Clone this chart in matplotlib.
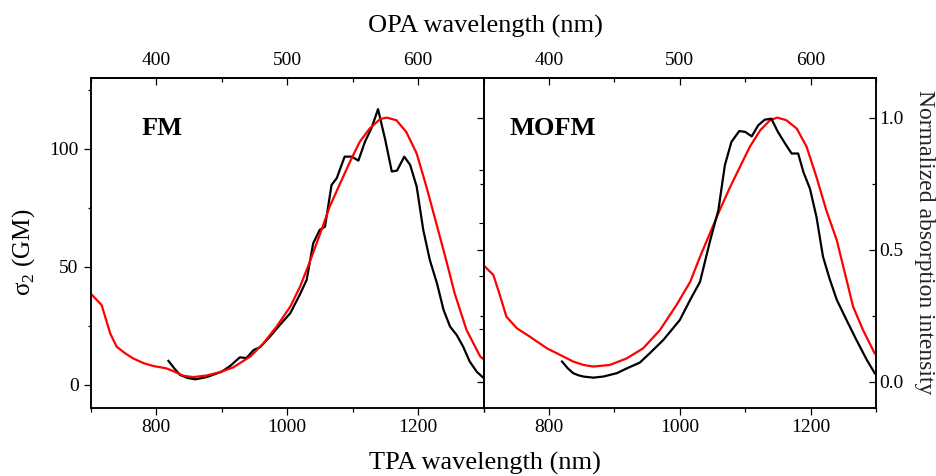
import matplotlib
matplotlib.use("Agg")
import matplotlib.pyplot as plt
from matplotlib.ticker import MultipleLocator

# ---------------- data ----------------
# FM: two-photon absorption cross-section (GM) vs TPA wavelength (nm)
fm_tpa_wl = [819, 828, 837, 848, 860, 877, 900, 913, 928, 938, 949, 959, 974, 989,
             1005, 1020, 1030, 1040, 1050, 1058, 1068, 1076, 1088, 1099, 1109, 1119,
             1129, 1139, 1150, 1160, 1168, 1179, 1188, 1198, 1208, 1218, 1229, 1239,
             1249, 1259, 1269, 1279, 1290, 1300]
fm_tpa_gm = [10.2, 7.0, 4.2, 3.0, 2.4, 3.3, 5.6, 8.0, 11.7, 11.4, 14.8, 16.0, 20.5, 25.4,
             30.4, 38.5, 44.5, 60.0, 65.7, 67.0, 84.7, 87.6, 96.7, 96.7, 95.0, 103.0,
             108.8, 116.8, 103.8, 90.4, 90.8, 96.7, 93.2, 84.0, 65.7, 53.0, 43.0, 31.8,
             24.7, 21.2, 16.2, 9.9, 5.5, 3.0]

# FM: normalized one-photon absorption (plotted at 2x wavelength, TPA scale)
fm_abs_wl = [700, 717, 730, 740, 753, 765, 781, 796, 816, 826, 842, 857, 877, 898, 918,
             944, 964, 984, 1005, 1020, 1035, 1050, 1065, 1081, 1096, 1111, 1126, 1142,
             1152, 1167, 1182, 1198, 1213, 1228, 1243, 1256, 1274, 1295, 1300]
fm_abs = [0.334, 0.29, 0.183, 0.132, 0.107, 0.088, 0.07, 0.059, 0.05, 0.04, 0.022, 0.017,
          0.023, 0.036, 0.054, 0.095, 0.145, 0.208, 0.284, 0.36, 0.455, 0.556, 0.662,
          0.75, 0.832, 0.908, 0.958, 0.994, 1.0, 0.99, 0.946, 0.864, 0.737, 0.599, 0.46,
          0.334, 0.196, 0.095, 0.085]

# MOFM: normalized TPA spectrum
mofm_tpa_wl = [820, 829, 837, 845, 853, 868, 883, 904, 919, 939, 954, 975, 1000, 1016,
               1031, 1046, 1059, 1069, 1079, 1091, 1100, 1110, 1120, 1130, 1140, 1150,
               1161, 1171, 1181, 1189, 1199, 1209, 1219, 1229, 1240, 1255, 1270, 1286,
               1298, 1300]
mofm_tpa = [0.076, 0.05, 0.032, 0.024, 0.019, 0.015, 0.019, 0.032, 0.05, 0.072, 0.107,
            0.158, 0.233, 0.31, 0.378, 0.53, 0.649, 0.82, 0.908, 0.949, 0.946, 0.929,
            0.971, 0.992, 0.996, 0.946, 0.902, 0.864, 0.864, 0.794, 0.731, 0.624, 0.473,
            0.39, 0.31, 0.233, 0.158, 0.082, 0.032, 0.028]

# MOFM: normalized one-photon absorption
mofm_abs_wl = [700, 715, 725, 735, 751, 771, 797, 822, 837, 853, 868, 893, 919, 944, 970,
               995, 1016, 1031, 1046, 1061, 1077, 1092, 1107, 1123, 1138, 1149, 1163,
               1179, 1194, 1209, 1224, 1240, 1255, 1265, 1280, 1298]
mofm_abs = [0.441, 0.404, 0.328, 0.246, 0.202, 0.17, 0.126, 0.095, 0.076, 0.063, 0.057,
            0.063, 0.088, 0.126, 0.196, 0.29, 0.378, 0.473, 0.561, 0.649, 0.737, 0.813,
            0.889, 0.952, 0.99, 1.0, 0.99, 0.958, 0.889, 0.775, 0.649, 0.536, 0.385,
            0.284, 0.196, 0.107]

panel_labels = ["FM", "MOFM"]
bottom_ticks = [800, 1000, 1200]
top_ticks = [400, 500, 600]
left_ticks = [0, 50, 100]
right_ticks = [0.0, 0.5, 1.0]

# ---------------- style ----------------
FONT = "Liberation Serif"
plt.rcParams["font.family"] = [FONT, "DejaVu Serif"]
plt.rcParams["mathtext.fontset"] = "custom"
plt.rcParams["mathtext.rm"] = FONT
plt.rcParams["axes.linewidth"] = 1.1
TICK_FS = 14
LABEL_FS = 19

fig = plt.figure(figsize=(9.36, 4.76), dpi=100)
ax1 = fig.add_axes([90.5 / 936, 1 - 408 / 476, 393 / 936, 330 / 476])
ax2 = fig.add_axes([483.5 / 936, 1 - 408 / 476, 392.5 / 936, 330 / 476])

XLIM = (700, 1300)
GM_LIM = (-9.75, 130)
N_LIM = (-0.1, 1.15)
LW = 1.6


def style_x(ax):
    ax.set_xlim(*XLIM)
    ax.set_xticks(bottom_ticks)
    ax.xaxis.set_minor_locator(MultipleLocator(100))
    ax.tick_params(axis="x", which="both", direction="out", top=False,
                   labelsize=TICK_FS, pad=3, width=0.9)
    ax.tick_params(axis="x", which="major", length=5)
    ax.tick_params(axis="x", which="minor", length=3)
    sec = ax.secondary_xaxis("top", functions=(lambda x: x / 2, lambda x: x * 2))
    sec.set_xticks(top_ticks)
    sec.xaxis.set_minor_locator(MultipleLocator(50))
    sec.tick_params(axis="x", which="both", direction="in", labelsize=TICK_FS,
                    pad=6.5, width=0.9)
    sec.tick_params(axis="x", which="major", length=5)
    sec.tick_params(axis="x", which="minor", length=3)
    return sec


# ---- left panel ----
style_x(ax1)
ax1.set_ylim(*GM_LIM)
ax1.set_yticks(left_ticks)
ax1.yaxis.set_minor_locator(MultipleLocator(25))
ax1.tick_params(axis="y", which="both", direction="out", right=False,
                labelsize=TICK_FS, pad=3.5, width=0.9)
ax1.tick_params(axis="y", which="major", length=5)
ax1.tick_params(axis="y", which="minor", length=2.5)
ax1.plot(fm_tpa_wl, fm_tpa_gm, color="black", lw=LW, zorder=3)

ax1r = ax1.twinx()
ax1r.set_ylim(*N_LIM)
ax1r.set_yticks(right_ticks)
ax1r.yaxis.set_minor_locator(MultipleLocator(0.25))
ax1r.tick_params(axis="y", which="both", direction="in", labelright=False,
                 width=0.9)
ax1r.tick_params(axis="y", which="major", length=5)
ax1r.tick_params(axis="y", which="minor", length=3)
ax1r.plot(fm_abs_wl, fm_abs, color="#ff0000", lw=LW, zorder=2)
ax1.text(0.13, 0.827, panel_labels[0], transform=ax1.transAxes, fontsize=19,
         fontweight="bold", va="baseline", ha="left")

# ---- right panel ----
style_x(ax2)
ax2.set_ylim(*N_LIM)
ax2.tick_params(axis="y", which="both", left=False, labelleft=False)
ax2r = ax2.twinx()
ax2r.set_ylim(*N_LIM)
ax2r.set_yticks(right_ticks)
ax2r.set_yticklabels(["0.0", "0.5", "1.0"])
ax2r.yaxis.set_minor_locator(MultipleLocator(0.25))
ax2r.tick_params(axis="y", which="both", direction="in", labelsize=TICK_FS,
                 pad=2.5, width=0.9)
ax2r.tick_params(axis="y", which="major", length=5)
ax2r.tick_params(axis="y", which="minor", length=3)
ax2r.plot(mofm_abs_wl, mofm_abs, color="#ff0000", lw=LW, zorder=2)
ax2r.plot(mofm_tpa_wl, mofm_tpa, color="black", lw=LW, zorder=3)
ax2.text(0.0675, 0.827, panel_labels[1], transform=ax2.transAxes, fontsize=19,
         fontweight="bold", va="baseline", ha="left")

# ---- axis titles ----
fig.text(485 / 936, 1 - 33 / 476, "OPA wavelength (nm)", fontsize=LABEL_FS,
         ha="center", va="baseline")
fig.text(485 / 936, 1 - 470 / 476, "TPA wavelength (nm)", fontsize=LABEL_FS,
         ha="center", va="baseline")
fig.text(24 / 936, 1 - 252 / 476, "σ$_2$ (GM)", fontsize=18, rotation=90,
         ha="center", va="center")
fig.text(924 / 936, 1 - 242 / 476, "Normalized absorption intensity",
         fontsize=17, rotation=270, ha="center", va="center",
         color="#222222")

fig.savefig("out.png", dpi=100)
